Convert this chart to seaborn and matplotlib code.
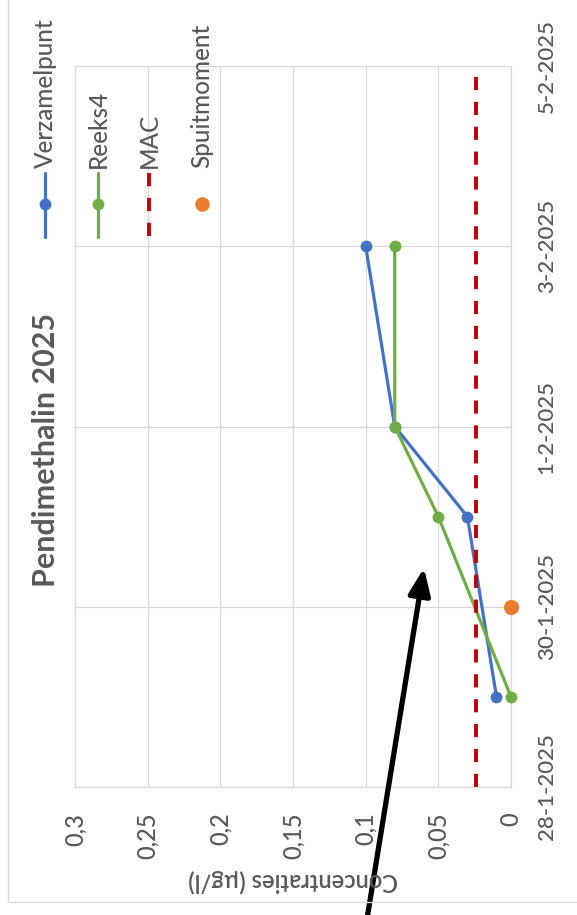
import numpy as np
import pandas as pd
import matplotlib
matplotlib.use('Agg')
import matplotlib.pyplot as plt
import matplotlib.dates as mdates
from matplotlib.lines import Line2D
from matplotlib.patches import Rectangle
import seaborn as sns

meet_datums = ['2025-01-29', '2025-01-31', '2025-02-01', '2025-02-03']
verzamelpunt = [0.01, 0.03, 0.08, 0.10]
reeks4 = [0.0, 0.05, 0.08, 0.08]
mac_datums = ['2025-01-28', '2025-02-05']
mac_waarden = [0.024, 0.024]
spuit_datums = ['2025-01-30']
spuit_waarden = [0.0]

conc_ticks = [0, 0.05, 0.1, 0.15, 0.2, 0.25, 0.3]
conc_labels = ['0', '0,05', '0,1', '0,15', '0,2', '0,25', '0,3']
datum_ticks = ['2025-01-28', '2025-01-30', '2025-02-01', '2025-02-03', '2025-02-05']
datum_labels = ['28-1-2025', '30-1-2025', '1-2-2025', '3-2-2025', '5-2-2025']
legend_labels = ['Verzamelpunt', 'Reeks4', 'MAC', 'Spuitmoment']

BLUE = '#4472C4'
GREEN = '#70AD47'
RED = '#C00000'
ORANGE = '#ED7D31'
GRID = '#D9D9D9'
TXT = '#595959'

sns.set_style('white')
plt.rcParams['font.family'] = ['Lato', 'DejaVu Sans']


def to_num(ds):
    return mdates.date2num(pd.to_datetime(ds))


W, H = 577, 915
fig = plt.figure(figsize=(W / 100, H / 100), dpi=100)
fig.patch.set_facecolor('white')

# plot area in pixel terms
left, right, top, bottom = 75, 511, 66, 787
ax = fig.add_axes([left / W, 1 - bottom / H, (right - left) / W, (bottom - top) / H])

sns.lineplot(x=verzamelpunt, y=to_num(meet_datums), orient='y', sort=False, estimator=None,
             color=BLUE, lw=2.3, marker='o', markersize=8.5, markeredgewidth=0,
             clip_on=False, zorder=3, ax=ax)
sns.lineplot(x=reeks4, y=to_num(meet_datums), orient='y', sort=False, estimator=None,
             color=GREEN, lw=2.3, marker='o', markersize=8.5, markeredgewidth=0,
             clip_on=False, zorder=4, ax=ax)
sns.lineplot(x=mac_waarden, y=to_num(mac_datums), orient='y', sort=False, estimator=None,
             color=RED, lw=2.8, linestyle=(0, (3.4, 3.0)), zorder=5, ax=ax)
sns.scatterplot(x=spuit_waarden, y=to_num(spuit_datums), color=ORANGE, s=120,
                linewidth=0, clip_on=False, zorder=6, ax=ax)

ax.set_xlim(0.3, 0)
ax.set_ylim(to_num(datum_ticks)[0], to_num(datum_ticks)[-1])
ax.set_xticks(conc_ticks)
ax.set_xticklabels(conc_labels)
ax.set_yticks(to_num(datum_ticks))
ax.set_yticklabels(datum_labels)
ax.yaxis.tick_right()
ax.set_xlabel('')
ax.set_ylabel('')

ax.grid(True, color=GRID, lw=0.9)
for sp in ax.spines.values():
    sp.set_color(GRID)
    sp.set_linewidth(0.9)
ax.tick_params(axis='x', length=0, pad=18.5, labelrotation=90, labelsize=17, labelcolor=TXT)
ax.tick_params(axis='y', length=0, pad=18.5, labelrotation=90, labelsize=16, labelcolor=TXT)
for lab in ax.get_yticklabels() + ax.get_xticklabels():
    lab.set_fontweight('medium')
for lab in ax.get_yticklabels():
    lab.set_va('center')

# title and axis title (rotated like the source image)
fig.text(46 / W, 1 - 450 / H, 'Pendimethalin 2025', rotation=90, ha='center', va='center',
         fontsize=22, color=TXT, fontweight='bold')
fig.text(293 / W, 1 - 881 / H, 'Concentraties (µg/l)', rotation=180, ha='center', va='center',
         fontsize=17, color=TXT, fontweight='semibold')

# legend, drawn by hand so it can be rotated
leg_x = [45, 98, 149, 202]
leg_style = [dict(color=BLUE, lw=2.3, marker=True),
             dict(color=GREEN, lw=2.3, marker=True),
             dict(color=RED, lw=2.8, marker=False),
             dict(color=ORANGE, lw=0, marker=True)]
for x, lab, st in zip(leg_x, legend_labels, leg_style):
    fx = x / W
    if st['lw'] > 0:
        ls = '-' if st['marker'] else (0, (3.4, 3.0))
        fig.add_artist(Line2D([fx, fx], [1 - 173 / H, 1 - 237 / H], color=st['color'],
                              lw=st['lw'], linestyle=ls, transform=fig.transFigure))
    if st['marker']:
        ms = 10.5 if lab == 'Spuitmoment' else 8.5
        fig.add_artist(Line2D([fx], [1 - 204 / H], color=st['color'], marker='o',
                              markersize=ms, markeredgewidth=0, lw=0,
                              transform=fig.transFigure))
    fig.text(fx, 1 - 168 / H, lab, rotation=90, ha='center', va='bottom',
             fontsize=17.5, color=TXT, fontweight='medium')

# outer chart frame
fig.add_artist(Rectangle((8 / W, 1 - 902 / H), 1.0, 1.0, fill=False, edgecolor=GRID,
                         lw=1.0, transform=fig.transFigure))

# black arrow drawn over the chart
ax.annotate('', xy=(424, H - 568), xycoords='figure pixels',
            xytext=(367, -4), textcoords='figure pixels',
            arrowprops=dict(arrowstyle='-|>,head_length=0.8,head_width=0.33',
                            mutation_scale=20, lw=3.8, color='black',
                            shrinkA=0, shrinkB=0),
            annotation_clip=False)

fig.savefig('out.png', dpi=100, facecolor='white')
